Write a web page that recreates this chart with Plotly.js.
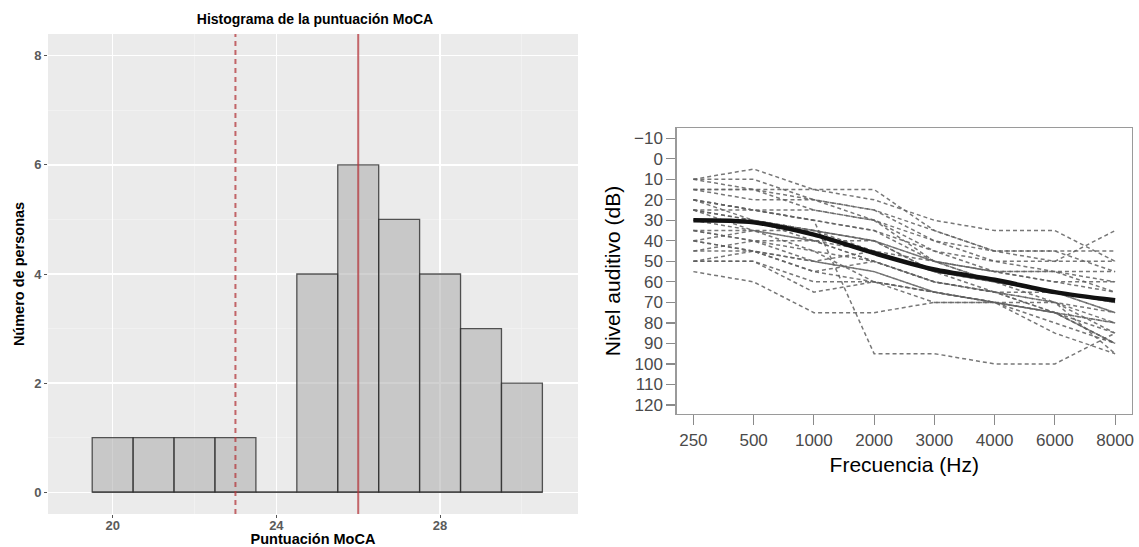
<!DOCTYPE html>
<html><head><meta charset="utf-8">
<script src="https://cdn.plot.ly/plotly-3.0.1.min.js"></script>
<style>html,body{margin:0;padding:0;background:#fff}#chart{width:1139px;height:547px}</style>
</head><body><div id="chart"></div><script>
// ---- Histogram data ----
const scoreBins = [20, 21, 22, 23, 24, 25, 26, 27, 28, 29, 30];
const personCounts = [1, 1, 1, 1, 0, 4, 6, 5, 4, 3, 2];
const cutoffScore = 23;
const medianScore = 26;

// ---- Audiogram data ----
const freqLabels = ['250', '500', '1000', '2000', '3000', '4000', '6000', '8000'];
const dbTicks = [-10, 0, 10, 20, 30, 40, 50, 60, 70, 80, 90, 100, 110, 120];
const meanThreshold = [30, 31, 37, 46, 54, 59, 65, 69];
const p01 = [10, 5, 15, 20, 30, 35, 35, 50];
const p02 = [15, 15, 15, 15, 35, 45, 50, 35];
const p03 = [10, 10, 20, 25, 35, 45, 45, 45];
const p04 = [15, 20, 20, 25, 40, 50, 50, 50];
const p05 = [15, 15, 25, 30, 45, 50, 55, 55];
const p06 = [20, 25, 25, 30, 50, 55, 55, 65];
const p07 = [20, 25, 30, 35, 45, 55, 60, 60];
const p08 = [20, 30, 35, 40, 50, 60, 65, 70];
const p09 = [25, 25, 30, 35, 50, 55, 60, 65];
const p10 = [25, 30, 35, 40, 55, 60, 65, 75];
const p11 = [25, 35, 40, 40, 55, 60, 70, 80];
const p12 = [30, 30, 40, 45, 55, 65, 70, 75];
const p13 = [35, 35, 40, 50, 60, 65, 65, 70];
const p14 = [35, 40, 45, 50, 60, 65, 70, 85];
const p15 = [40, 45, 55, 50, 60, 65, 75, 90];
const p16 = [40, 45, 50, 45, 55, 60, 65, 75];
const p17 = [45, 45, 50, 55, 65, 70, 75, 85];
const p18 = [45, 40, 40, 50, 60, 65, 75, 90];
const p19 = [50, 45, 55, 60, 65, 70, 75, 80];
const p20 = [50, 50, 60, 60, 65, 70, 80, 90];
const p21 = [50, 50, 65, 60, 70, 70, 85, 95];
const p22 = [55, 60, 75, 75, 70, 70, 75, 90];
const p23 = [20, 25, 30, 95, 95, 100, 100, 85];
const p24 = [30, 35, 35, 40, 50, 55, 55, 60];
const p25 = [10, 15, 20, 30, 40, 45, 45, 55];
const p26 = [35, 40, 50, 55, 65, 70, 75, 80];
const p27 = [40, 35, 45, 60, 65, 70, 70, 95];
const p28 = [25, 30, 35, 45, 50, 60, 65, 70];
const subjects = [p01,p02,p03,p04,p05,p06,p07,p08,p09,p10,p11,p12,p13,p14,p15,p16,p17,p18,p19,p20,p21,p22,p23,p24,p25,p26,p27,p28];

const W = 1139, H = 547;
const FONT = 'Arial, Liberation Sans, sans-serif';
const leftTick = {family: FONT, size: 13, color: '#5a5a5a', weight: 'bold'};
const boldTitle = {family: FONT, size: 14.5, color: '#000', weight: 'bold'};
const rightTick = {family: FONT, size: 17, color: '#4a4a4a'};
const rightTitle = {family: FONT, size: 21, color: '#000'};

const traces = [];
traces.push({
  type: 'bar', x: scoreBins, y: personCounts, width: 1,
  xaxis: 'x', yaxis: 'y',
  marker: {color: 'rgba(172,172,172,0.55)', line: {color: 'rgba(45,45,45,0.8)', width: 1.3}},
  hoverinfo: 'x+y'
});
// baseline of the empty bins (ggplot draws zero-height bars as a flat outline)
traces.push({
  type: 'scatter', mode: 'lines',
  x: [scoreBins[0] - 0.5, scoreBins[scoreBins.length - 1] + 0.5], y: [0, 0],
  xaxis: 'x', yaxis: 'y',
  line: {color: 'rgba(45,45,45,0.8)', width: 1.3}, hoverinfo: 'skip'
});
subjects.forEach((s, i) => {
  traces.push({
    type: 'scatter', mode: 'lines', x: freqLabels, y: s,
    xaxis: 'x2', yaxis: 'y2',
    line: {color: 'rgba(95,95,95,0.85)', width: 1.5, dash: '4px,3px'},
    name: 'Sujeto ' + (i + 1), hoverinfo: 'y'
  });
});
traces.push({
  type: 'scatter', mode: 'lines', x: freqLabels, y: meanThreshold,
  xaxis: 'x2', yaxis: 'y2',
  line: {color: '#111', width: 4.5, shape: 'spline', smoothing: 0.8},
  name: 'Media'
});

const layout = {
  width: W, height: H,
  margin: {l: 0, r: 0, t: 0, b: 0},
  paper_bgcolor: '#fff', plot_bgcolor: 'rgba(0,0,0,0)',
  showlegend: false,
  title: {text: 'Histograma de la puntuación MoCA', font: {family: FONT, size: 14, color: '#000', weight: 'bold'},
          x: 315 / W, xanchor: 'center', xref: 'paper', y: 1 - 19 / H, yanchor: 'middle', yref: 'container'},
  xaxis: {
    domain: [48 / W, 578 / W], anchor: 'y', range: [18.42, 31.37],
    tickmode: 'linear', tick0: 20, dtick: 4,
    showgrid: true, gridcolor: '#ffffff', gridwidth: 1.3,
    minor: {dtick: 2, tick0: 0, showgrid: true, gridcolor: '#f5f5f5', gridwidth: 0.6},
    zeroline: false, showline: false, ticks: 'outside', ticklen: 3, tickcolor: '#555', tickwidth: 1,
    ticklabelstandoff: -4,
    tickfont: leftTick, fixedrange: true,
    title: {text: 'Puntuación MoCA', font: boldTitle, standoff: 6}
  },
  yaxis: {
    domain: [(H - 514) / H, (H - 34) / H], anchor: 'x', range: [-0.40, 8.40],
    tickmode: 'linear', tick0: 0, dtick: 2,
    showgrid: true, gridcolor: '#ffffff', gridwidth: 1.3,
    minor: {dtick: 1, tick0: 0, showgrid: true, gridcolor: '#f5f5f5', gridwidth: 0.6},
    zeroline: false, showline: false, ticks: 'outside', ticklen: 3, tickcolor: '#555', tickwidth: 1,
    tickfont: leftTick, fixedrange: true,
    title: {text: 'Número de personas', font: boldTitle, standoff: 6}
  },
  xaxis2: {
    domain: [676.5 / W, 1132 / W], anchor: 'y2', type: 'category', range: [-0.28, 7.28],
    showgrid: false, zeroline: false, showline: true, mirror: true, linecolor: '#9a9a9a', linewidth: 1.2,
    ticks: 'outside', ticklen: 10, tickcolor: '#8a8a8a', tickwidth: 1.2,
    tickfont: rightTick, fixedrange: true,
    title: {text: 'Frecuencia (Hz)', font: rightTitle, standoff: 8}
  },
  yaxis2: {
    domain: [(H - 414) / H, (H - 128) / H], anchor: 'x2', range: [124.4, -15.0],
    tickmode: 'array', tickvals: dbTicks,
    showgrid: false, zeroline: false, showline: true, mirror: true, linecolor: '#9a9a9a', linewidth: 1.2,
    ticks: 'outside', ticklen: 9, tickcolor: '#8a8a8a', tickwidth: 1.2,
    tickfont: rightTick, fixedrange: true,
    title: {text: 'Nivel auditivo (dB)', font: rightTitle, standoff: 7}
  },
  shapes: [
    {type: 'rect', xref: 'x domain', yref: 'y domain', x0: 0, x1: 1, y0: 0, y1: 1,
     fillcolor: '#ebebeb', line: {width: 0}, layer: 'below'},
    {type: 'line', xref: 'x', yref: 'y domain', x0: cutoffScore, x1: cutoffScore, y0: 0, y1: 1,
     line: {color: 'rgba(180,55,60,0.75)', width: 2, dash: '5px,4px'}},
    {type: 'line', xref: 'x', yref: 'y domain', x0: medianScore, x1: medianScore, y0: 0, y1: 1,
     line: {color: 'rgba(180,55,60,0.75)', width: 2}}
  ]
};

Plotly.newPlot('chart', traces, layout, {staticPlot: true, displayModeBar: false});
</script></body></html>
